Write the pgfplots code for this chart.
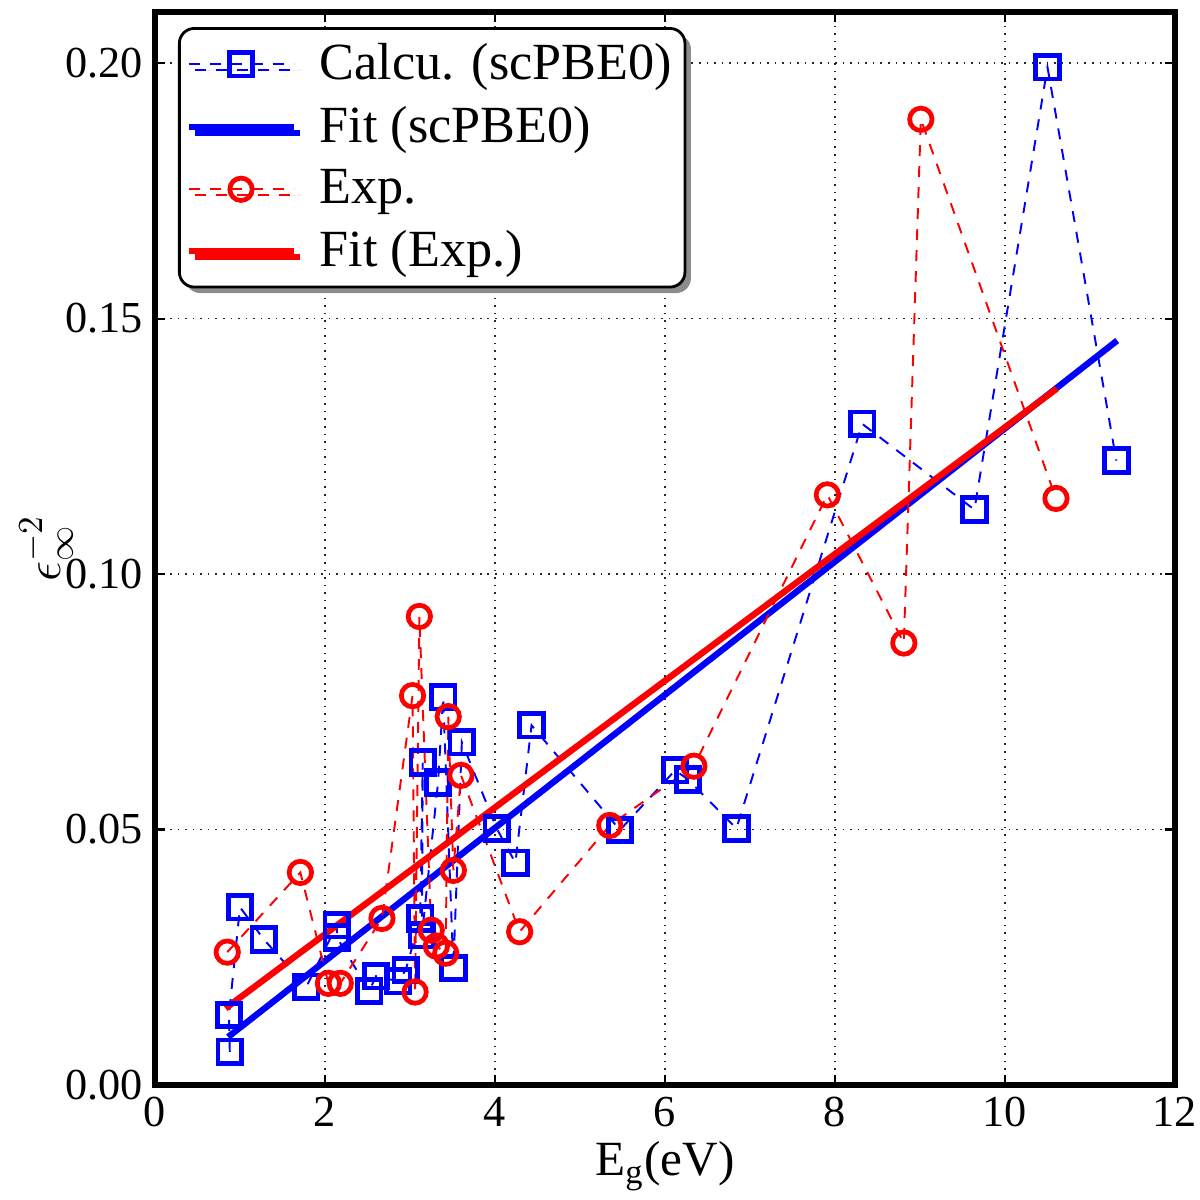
\documentclass[border=0pt]{standalone}
\usepackage{pgfplots}
\pgfplotsset{compat=1.18}
\usepackage{fontspec}
\setmainfont{Liberation Serif}
\usetikzlibrary{shadows}

\definecolor{pblue}{RGB}{0,0,255}
\definecolor{pred}{RGB}{255,0,0}

% calculated (scPBE0) band gaps vs inverse squared dielectric constant
\pgfplotstableread{
x y
0.88 0.0065
0.87 0.0137
1.00 0.0348
1.28 0.0285
1.78 0.0192
2.14 0.0313
2.14 0.0289
2.52 0.0184
2.60 0.0213
2.86 0.0203
2.95 0.0225
3.12 0.0326
3.15 0.0631
3.14 0.0293
3.33 0.0592
3.39 0.0759
3.51 0.0229
3.61 0.0671
4.02 0.0502
4.24 0.0435
4.43 0.0704
5.47 0.0499
6.12 0.0616
6.27 0.0598
6.84 0.0502
8.32 0.1294
9.64 0.1126
10.50 0.1992
11.31 0.1222
}\calcdata

% experimental values
\pgfplotstableread{
x y
0.85 0.0260
1.71 0.0416
2.04 0.0199
2.18 0.0199
2.67 0.0326
3.03 0.0762
3.06 0.0182
3.11 0.0917
3.25 0.0303
3.31 0.0272
3.42 0.0258
3.45 0.0721
3.51 0.0420
3.60 0.0606
4.29 0.0300
5.35 0.0508
6.34 0.0624
7.91 0.1155
8.81 0.0865
9.01 0.1890
10.60 0.1148
}\expdata

\begin{document}
\begin{tikzpicture}
% fixed page: 120mm x 120mm around the axis box
\useasboundingbox (-15.5mm,-11.5mm) rectangle (104.5mm,108.5mm);
\begin{axis}[
  at={(0,0)}, anchor=south west,
  scale only axis,
  width=102mm, height=107.3mm,
  xmin=0, xmax=12, ymin=0, ymax=0.21,
  xtick={0,2,...,12},
  ytick={0,0.05,0.10,0.15,0.20},
  yticklabel style={/pgf/number format/.cd, fixed, fixed zerofill, precision=2},
  /pgf/number format/assume math mode=true,
  tick label style={font=\fontsize{12.6}{14.5}\selectfont, black},
  tick align=inside,
  tickpos=both,
  major tick length=1mm,
  tick style={black, line width=0.6pt},
  axis line style={black, line width=1.8pt},
  grid=major,
  major grid style={black!85, line width=0.5pt, dash pattern=on 0.45pt off 1.7pt},
  xlabel={E\textsubscript{g}(eV)},
  ylabel={$\epsilon_{\infty}^{-2}$},
  label style={font=\fontsize{14}{16}\selectfont},
  xlabel style={yshift=1mm},
  ylabel style={yshift=-3.2mm},
  legend cell align=left,
  legend style={
    at={(0.0225,0.986)}, anchor=north west,
    font=\fontsize{14.85}{17}\selectfont,
    draw=black, line width=0.8pt, rounded corners=1.5mm, fill=white,
    inner xsep=0.6mm, inner ysep=0.8mm,
    row sep=0.75mm,
    /tikz/every odd column/.append style={column sep=1.6mm},
    drop shadow={shadow xshift=0.6mm, shadow yshift=-0.6mm, fill=black!45, opacity=1},
  },
  legend image code/.code={%
    \draw[mark repeat=2, mark phase=2]
      plot coordinates {(0cm,0cm) (0.525cm,0cm) (1.05cm,0cm)};},
]
\addplot[pblue, line width=0.55pt, dash pattern=on 1.1mm off 1.0mm,
  mark=square, mark size=1.18mm,
  mark options={solid, line width=1.35pt, fill=none}]
  table[x=x, y=y] {\calcdata};
\addlegendentry{Calcu. (scPBE0)}

\addplot[pblue, line width=1.8pt, no marks]
  coordinates {(0.86,0.0094) (11.32,0.1457)};
\addlegendentry{Fit (scPBE0)}

\addplot[pred, line width=0.55pt, dash pattern=on 1.1mm off 1.0mm,
  mark=o, mark size=1.12mm,
  mark options={solid, line width=1.35pt, fill=none}]
  table[x=x, y=y] {\expdata};
\addlegendentry{Exp.}

\addplot[pred, line width=1.8pt, no marks]
  coordinates {(0.83,0.0150) (10.61,0.1363)};
\addlegendentry{Fit (Exp.)}
\end{axis}
\end{tikzpicture}
\end{document}
